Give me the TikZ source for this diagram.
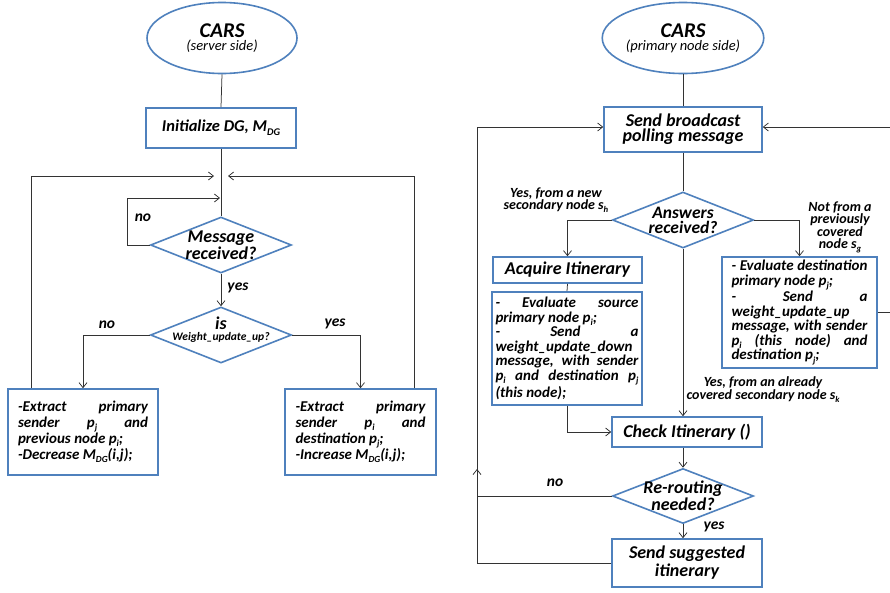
\documentclass[tikz,border=0pt]{standalone}
\usepackage{fontspec}
\setmainfont{Carlito}
\usepackage{graphicx}
\usetikzlibrary{shapes.geometric,arrows.meta}
\definecolor{boxblue}{HTML}{4F81BD}
\newcommand{\sbs}[1]{\raisebox{-0.45ex}{\scalebox{0.62}{#1}}}
\newcommand{\jl}[2]{\makebox[#1][s]{#2}}
\begin{document}
\begin{tikzpicture}[x=1pt,y=-1pt,
  shapebox/.style={draw=boxblue, line width=1.6pt, fill=white},
  startell/.style={shapebox, ellipse, minimum width=150pt, minimum height=71pt, inner sep=0pt, align=center,
    font=\bfseries\itshape\fontsize{21}{13}\selectfont},
  procbox/.style={shapebox, rectangle, inner sep=0pt, align=center,
    font=\bfseries\itshape\fontsize{18}{15}\selectfont},
  textbox/.style={shapebox, rectangle, inner ysep=0pt, align=left},
  decis/.style={shapebox, diamond, minimum width=141pt, minimum height=56pt, inner sep=0pt},
  dtext/.style={inner sep=0pt, align=center, font=\bfseries\itshape\fontsize{18}{14}\selectfont},
  conn/.style={draw=black!80, line width=0.75pt},
  arr/.style={conn, -{Straight Barb[length=5pt,width=8pt]}},
  lbl/.style={inner sep=0pt, font=\bfseries\itshape\fontsize{15.5}{15}\selectfont},
  slbl/.style={inner sep=0pt, align=center, font=\bfseries\itshape\fontsize{14}{12}\selectfont}
]
\useasboundingbox (0,0) rectangle (890,592);
\fill[white] (0,0) rectangle (890,592);

% ---------- left: server side ----------
\node[startell] (cars1) at (222,38) {CARS\\{\fontsize{14.5}{13}\selectfont\mdseries (server side)}};
\node[procbox, minimum width=150pt, minimum height=40pt, font=\bfseries\itshape\fontsize{16.5}{15}\selectfont] (init) at (221,128) {Initialize DG, M\sbs{DG}};
\node[decis] (msg) at (221,245) {};
\node[dtext] (msgt) at (msg.center) {Message\\received?};
\node[decis] (isw) at (221,335) {};
\node[dtext, font=\bfseries\itshape\fontsize{18}{11}\selectfont] (iswt) at ([yshift=5pt]isw.center) {is\\{\fontsize{11.5}{11}\selectfont Weight\_update\_up?}};

\node[textbox, minimum width=150pt, minimum height=86pt, inner xsep=10pt,
  font=\bfseries\itshape\fontsize{15}{16}\selectfont] (boxL) at (83,432)
  {\jl{130pt}{-Extract primary}\\\jl{130pt}{sender p\sbs{j} and}\\previous node p\sbs{i};\\-Decrease M\sbs{DG}(i,j);};
\node[textbox, minimum width=151pt, minimum height=86pt, inner xsep=10.5pt,
  font=\bfseries\itshape\fontsize{15}{16}\selectfont] (boxR) at (360.5,432)
  {\jl{130pt}{-Extract primary}\\\jl{130pt}{sender p\sbs{i} and}\\destination p\sbs{j};\\-Increase M\sbs{DG}(i,j);};

\coordinate (ljoin) at (31,176);
\coordinate (ltip) at (214,176);
\coordinate (rjoin) at (414,176);
\coordinate (rtip) at (228,176);
\coordinate (nojoin) at (127,198);
\coordinate (notip) at (220,198);

\draw[conn] (cars1.south) -- (init.north);
\draw[conn] (init.south) -- (msg.north);
\draw[arr] (msg.west) -| (nojoin) -- (notip);
\draw[arr] (msg.south) -- (isw.north);
\draw[arr] (isw.west) -| (boxL.north);
\draw[arr] (isw.east) -| (boxR.north);
\draw[arr] (boxL.north -| ljoin) -- (ljoin) -- (ltip);
\draw[arr] (boxR.north -| rjoin) -- (rjoin) -- (rtip);

\node[lbl] (lno1) at (143,218) {no};
\node[lbl] (lyes1) at (238,288) {yes};
\node[lbl] (lno2) at (107,325) {no};
\node[lbl] (lyes2) at (335,324) {yes};

% ---------- right: primary node side ----------
\node[startell] (cars2) at (683,38) {CARS\\{\fontsize{14.5}{13}\selectfont\mdseries (primary node side)}};
\node[procbox, minimum width=158pt, minimum height=45pt] (send) at (683,129.5) {Send broadcast\\polling message};
\node[decis] (ans) at (683,220) {};
\node[dtext, font=\bfseries\itshape\fontsize{17.5}{15}\selectfont] (anst) at (ans.center) {Answers\\received?};
\node[procbox, minimum width=149pt, minimum height=26pt] (acq) at (567.5,270) {Acquire Itinerary};
\node[textbox, minimum width=150pt, minimum height=113pt, inner xsep=3.5pt,
  font=\bfseries\itshape\fontsize{15}{14.5}\selectfont] (evs) at (567,348.5)
  {\jl{143pt}{- Evaluate source}\\primary node p\sbs{i};\\\jl{143pt}{- Send a}\\weight\_update\_down\\\jl{143pt}{message, with sender}\\\jl{143pt}{p\sbs{i} and destination p\sbs{j}}\\(this node);};
\node[textbox, minimum width=155pt, minimum height=111pt, inner xsep=9.5pt,
  font=\bfseries\itshape\fontsize{15}{14.5}\selectfont] (evd) at (799.5,312.5)
  {\jl{136pt}{- Evaluate destination}\\primary node p\sbs{j};\\\jl{136pt}{- Send a}\\weight\_update\_up\\\jl{136pt}{message, with sender}\\\jl{136pt}{p\sbs{i} (this node) and}\\destination p\sbs{j};};
\node[procbox, minimum width=150pt, minimum height=30pt] (check) at (687,432) {Check Itinerary ()};
\node[decis, minimum height=55pt] (rr) at (683,496) {};
\node[dtext, font=\bfseries\itshape\fontsize{18}{13.5}\selectfont] (rrt) at (rr.center) {Re-routing\\needed?};
\node[procbox, minimum width=150pt, minimum height=48pt, font=\bfseries\itshape\fontsize{18}{18}\selectfont] (sug) at (687,563) {Send suggested\\itinerary};

\coordinate (ltop) at (477,127);
\coordinate (lup) at (477,469);
\coordinate (rtop) at (890,127);
\coordinate (redge) at (890,312);

\draw[conn] (cars2.south) -- (send.north);
\draw[conn] (send.south) -- (ans.north);
\draw[arr] (ans.west) -| (acq.north);
\draw[conn] (acq.south) -- (evs.north);
\draw[arr] (evs.south) |- (check.west);
\draw[arr] (ans.south) -- (ans.south |- check.north);
\draw[arr] (ans.east) -| (evd.north);
\draw[conn] (evd.east) -- (evd.east -| redge);
\draw[arr] (rtop) -- (rtop -| send.east);
\draw[arr] (rr.north |- check.south) -- (rr.north);
\draw[arr] (rr.south) -- (rr.south |- sug.north);
\draw[arr] (rr.west) -| (lup);
\draw[arr] (sug.west) -| (ltop) -- (ltop -| send.west);

\node[slbl] (lnew) at (556,200) {Yes, from a new\\secondary node s\sbs{h}};
\node[slbl] (lnot) at (840,227) {Not from a\\previously\\covered\\node s\sbs{g}};
\node[slbl] (lalr) at (763,390) {Yes, from an already\\covered secondary node s\sbs{k}};
\node[lbl] (lno3) at (555,483) {no};
\node[lbl] (lyes3) at (714,527) {yes};
\end{tikzpicture}
\end{document}
